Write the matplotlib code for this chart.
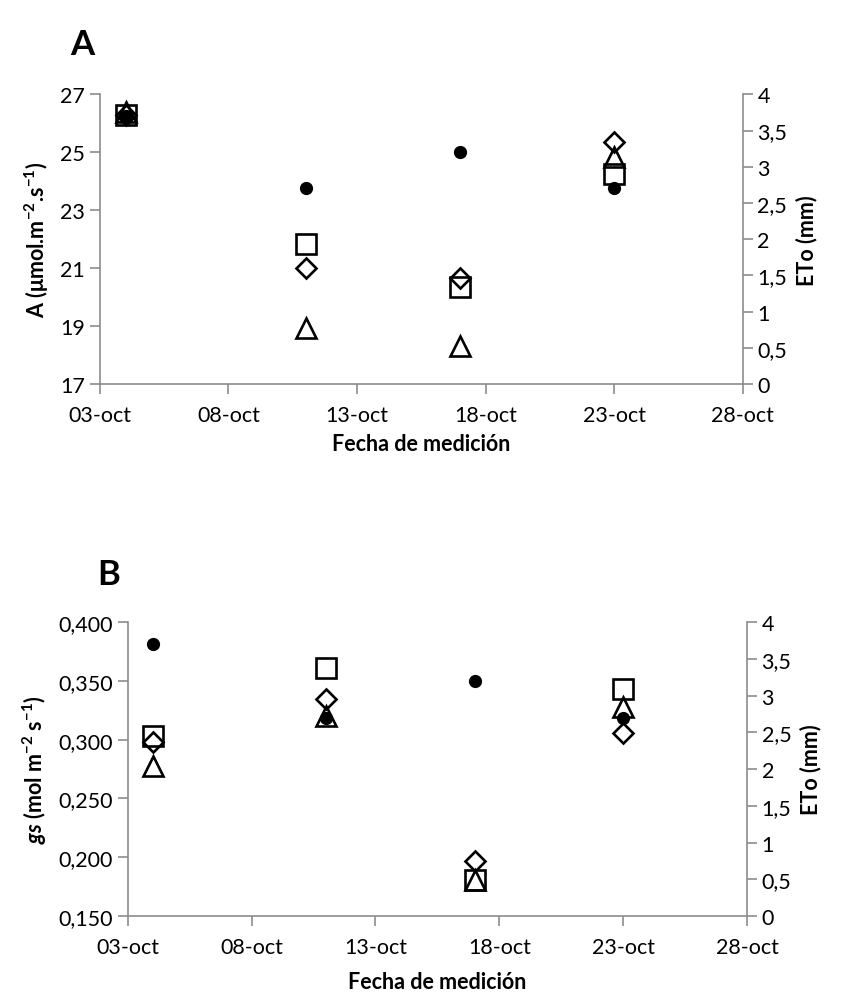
import numpy as np
from matplotlib import pyplot as plt
from matplotlib.ticker import FuncFormatter

plt.rcParams['font.family'] = ['Lato', 'DejaVu Sans']
plt.rcParams['mathtext.fontset'] = 'custom'
plt.rcParams['mathtext.rm'] = 'Lato'
plt.rcParams['mathtext.it'] = 'Lato:italic:bold'
plt.rcParams['mathtext.bf'] = 'Lato:bold'

# measurement dates (day of October)
days = [4, 11, 17, 23]
xticks = [3, 8, 13, 18, 23, 28]
xlabels = ['03-oct', '08-oct', '13-oct', '18-oct', '23-oct', '28-oct']

# ETo (mm), right axis, same for both panels
eto = [3.7, 2.7, 3.2, 2.7]

# panel A: net assimilation
a_square = [26.3, 21.85, 20.35, 24.25]
a_diamond = [26.3, 21.0, 20.65, 25.35]
a_triangle = [26.4, 18.95, 18.3, 24.85]

# panel B: stomatal conductance
g_square = [0.303, 0.361, 0.181, 0.343]
g_diamond = [0.298, 0.335, 0.197, 0.306]
g_triangle = [0.278, 0.320, 0.181, 0.328]

grey = '#8c8c8c'


def comma(fmt):
    return FuncFormatter(lambda v, p: (fmt % v).replace('.', ','))


def panel(rect, sq, di, tr, ylim, yticks, yfmt, ylabel, letter, letter_xy, xpad):
    ax = fig.add_axes(rect)
    ax2 = ax.twinx()
    ax.plot(days, sq, ls='none', marker='s', ms=14, mfc='none', mec='black', mew=1.9, zorder=3)
    ax.plot(days, di, ls='none', marker='D', ms=9.8, mfc='none', mec='black', mew=1.9, zorder=3)
    ax.plot(days, tr, ls='none', marker='^', ms=14.5, mfc='none', mec='black', mew=1.9, zorder=3)
    ax2.plot(days, eto, ls='none', marker='o', ms=8.5, mfc='black', mec='black', zorder=4)

    ax.set_xlim(3, 28)
    ax.set_xticks(xticks)
    ax.set_xticklabels(xlabels)
    ax.set_ylim(*ylim)
    ax.set_yticks(yticks)
    ax.yaxis.set_major_formatter(yfmt)
    ax2.set_ylim(0, 4)
    ax2.set_yticks(np.arange(0, 4.01, 0.5))
    ax2.yaxis.set_major_formatter(FuncFormatter(lambda v, p: ('%g' % v).replace('.', ',')))

    for a in (ax, ax2):
        a.spines['top'].set_visible(False)
        for s in ('left', 'right', 'bottom'):
            a.spines[s].set_color(grey)
            a.spines[s].set_linewidth(1.2)
        a.tick_params(colors='black', labelsize=15.5, length=7, width=1.2, direction='out')
        a.tick_params(axis='both', color=grey)
    ax.tick_params(axis='x', pad=8)
    ax2.spines['left'].set_visible(False)
    ax2.spines['bottom'].set_visible(False)
    ax.spines['right'].set_visible(False)
    ax.set_zorder(ax2.get_zorder() + 1)
    ax.patch.set_visible(False)

    ax.set_xlabel('Fecha de medición', fontsize=15.5, fontweight='bold', labelpad=xpad)
    ax.set_ylabel(ylabel, fontsize=15.5, fontweight='bold', labelpad=7)
    ax2.set_ylabel('ETo (mm)', fontsize=15.5, fontweight='bold', labelpad=6)
    fig.text(letter_xy[0], letter_xy[1], letter, fontsize=25, fontweight='bold',
             ha='center', va='center')
    return ax


fig = plt.figure(figsize=(8.46, 10.03), dpi=100)

panel([0.118, 0.616, 0.760, 0.289], a_square, a_diamond, a_triangle,
      (17, 27), np.arange(17, 27.1, 2), comma('%d'),
      r'A ($\mathbf{\mu}$mol.m$^{\mathbf{-2}}$.s$^{\mathbf{-1}}$)', 'A', (0.097, 0.955), 6)

panel([0.151, 0.0857, 0.732, 0.293], g_square, g_diamond, g_triangle,
      (0.15, 0.40), np.arange(0.15, 0.401, 0.05), comma('%.3f'),
      r'$\mathit{gs}$ (mol m$^{\mathbf{-2}}$ s$^{\mathbf{-1}}$)', 'B', (0.128, 0.427), 10)

plt.savefig('out.png', dpi=100)
